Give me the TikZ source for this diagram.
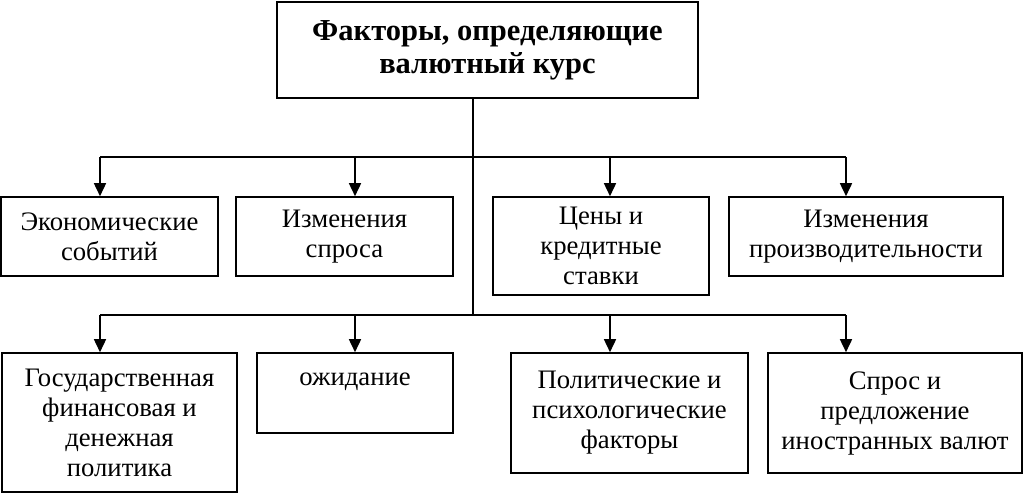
\documentclass[tikz,border=0pt]{standalone}
\usepackage{fontspec}
\setmainfont{Liberation Serif}
\usetikzlibrary{arrows.meta}
\tikzset{factor/.style={draw, line width=1.6pt, align=center, inner sep=0pt,
      font=\fontsize{26.7}{30}\selectfont},
  headbox/.style={factor, font=\fontsize{30.5}{33}\selectfont\bfseries},
  link/.style={line width=1.6pt},
  down/.style={link, -{Triangle[length=13pt,width=12pt]}}}

\begin{document}
\begin{tikzpicture}[x=1pt,y=-1pt]
		\useasboundingbox (0,0) rectangle (1024,493);
		% top
		\node[headbox, minimum width=421pt, minimum height=96pt] (head) at (487.5,50) {Факторы, определяющие\\валютный курс};
		% first row
		\node[factor, minimum width=217pt, minimum height=79pt] (b1) at (109.5,236.5) {Экономические\\событий};
		\node[factor, minimum width=217pt, minimum height=79pt] (b2) at (344.5,236.5) {Изменения\\спроса};
		\node[factor, minimum width=216pt, minimum height=98pt] (b3) at (601,246) {Цены и\\кредитные\\ставки};
		\node[factor, minimum width=274pt, minimum height=79pt] (b4) at (866,236.5) {Изменения\\производительности};
		% second row
		\node[factor, minimum width=235pt, minimum height=139pt] (b5) at (119.5,422.5) {Государственная\\финансовая и\\денежная\\политика};
		\node[factor, minimum width=196pt, minimum height=80pt] (b6) at (355,393) {};
		\node[factor, draw=none, anchor=north] (b6t) at ([yshift=-20pt]b6.north) {ожидание};
		\node[factor, minimum width=237pt, minimum height=120pt] (b7) at (629.5,413) {Политические и\\психологические\\факторы};
		\node[factor, minimum width=254pt, minimum height=120pt] (b8) at (895,413) {Спрос и\\предложение\\иностранных валют};
		% branch points
		\coordinate (j1) at (473,157);
		\coordinate (j2) at (473,315);
		\coordinate (r1a) at (100,157);
		\coordinate (r1b) at (355,157);
		\coordinate (r1c) at (610,157);
		\coordinate (r1d) at (846,157);
		\coordinate (r2a) at (100,315);
		\coordinate (r2b) at (355,315);
		\coordinate (r2c) at (610,315);
		\coordinate (r2d) at (846,315);
		\draw[link] (head.south -| j1) -- (j2);
		\draw[link] (r1a) -- (r1d);
		\draw[link] (r2a) -- (r2d);
		\foreach \p/\b in {r1a/b1, r1b/b2, r1c/b3, r1d/b4, r2a/b5, r2b/b6, r2c/b7, r2d/b8}
			\draw[down] (\p) -- (\p |- \b.north);
		\end{tikzpicture}
\end{document}
